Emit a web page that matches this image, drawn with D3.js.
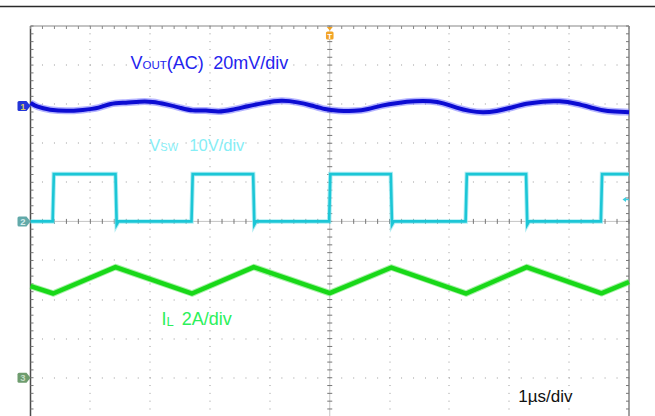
<!DOCTYPE html>
<html><head><meta charset="utf-8">
<script src="https://cdn.jsdelivr.net/npm/d3@7"></script>
<style>
body{margin:0;background:#fff}
svg{display:block}
text{font-family:"Liberation Sans",Arial,Helvetica,sans-serif}
</style>
</head><body>
<svg id="c" width="655" height="416"></svg>
<script>
// ---- data ----
const timeTicks = [-5,-4,-3,-2,-1,0,1,2,3,4,5];          // µs, 1 µs/div
const divTicks  = [-5,-4,-3,-2,-1,0,1,2,3,4,5];          // vertical divisions
const ch1Offset = 2.95, ch1Scale = 20;   // mV/div
const ch2Offset = 0,    ch2Scale = 10;   // V/div
const ch3Offset = -4.0, ch3Scale = 2;    // A/div
const trigLevelV = 5.6;

const voutTime = [-5.00,-4.90,-4.68,-4.40,-4.13,-3.84,-3.68,-3.40,-3.18,-2.96,-2.73,-2.51,-2.29,-2.06,-1.87,-1.64,-1.37,-1.09,-0.81,-0.53,-0.31,-0.08,0.14,0.42,0.64,0.86,1.14,1.42,1.70,1.89,2.12,2.34,2.56,2.79,3.01,3.29,3.56,3.84,4.12,4.40,4.62,5.00];
const voutMv   = [1.7,-0.4,-2.0,-2.6,-2.0,-1.0,1.4,1.7,2.4,2.4,0.9,-0.7,-2.6,-2.0,-3.1,-2.0,0.0,1.7,3.1,2.0,0.4,-1.7,-2.4,-2.6,-1.7,0.4,1.7,2.6,2.6,1.7,-0.9,-2.6,-3.4,-2.6,-1.0,1.4,2.4,2.7,1.4,-1.0,-2.7,-3.1];

const vswTime  = [-5.00,-4.63,-4.61,-3.58,-3.56,-3.53,-2.31,-2.29,-1.28,-1.26,-1.23,-0.01,0.01,1.02,1.04,1.07,2.27,2.29,3.28,3.30,3.33,4.53,4.55,5.00];
const vswVolts = [0,0,12.1,12.1,-0.8,0,0,12.1,12.1,-0.8,0,0,12.1,12.1,-0.8,0,0,12.1,12.1,-0.8,0,0,12.1,12.1];

const ilTime = [-5.00,-4.62,-3.58,-2.30,-1.27,0.00,1.03,2.28,3.29,4.54,5.00];
const ilAmps = [4.69,4.31,5.66,4.31,5.66,4.33,5.64,4.31,5.66,4.32,4.90];

// ---- drawing ----
const svg = d3.select("#c");
const x = d3.scaleLinear().domain([-5,5]).range([30.5,629]);
const y = d3.scaleLinear().domain([-5,5]).range([416.8,26]);

// top rule
svg.append("line").attr("x1",0).attr("x2",655).attr("y1",6.5).attr("y2",6.5)
  .attr("stroke","#2a2a2a").attr("stroke-width",1.6);

const g = svg.append("g");

// dotted grid
timeTicks.filter(t=>Math.abs(t)!==5 && t!==0).forEach(t=>{
  d3.range(-25,26).forEach(k=>{
    g.append("rect").attr("x",Math.round(x(t))-0.5).attr("y",y(k/5)-0.5).attr("width",1).attr("height",1).attr("fill","#9a9a9a");
  });
});
divTicks.filter(d=>Math.abs(d)!==5 && d!==0).forEach(d=>{
  d3.range(-25,26).forEach(k=>{
    g.append("rect").attr("x",x(k/5)-0.5).attr("y",Math.round(y(d))-0.5).attr("width",1).attr("height",1).attr("fill","#9a9a9a");
  });
});

// center axes
g.append("line").attr("x1",x(0)).attr("x2",x(0)).attr("y1",y(5)).attr("y2",y(-5)).attr("stroke","#c4c4c4").attr("stroke-width",1);
g.append("line").attr("x1",x(-5)).attr("x2",x(5)).attr("y1",y(0)).attr("y2",y(0)).attr("stroke","#c4c4c4").attr("stroke-width",1);
d3.range(-25,26).forEach(k=>{
  g.append("line").attr("x1",x(0)-2.5).attr("x2",x(0)+2.5).attr("y1",y(k/5)).attr("y2",y(k/5)).attr("stroke","#777").attr("stroke-width",1);
  g.append("line").attr("x1",x(k/5)).attr("x2",x(k/5)).attr("y1",y(0)-2.5).attr("y2",y(0)+2.5).attr("stroke","#777").attr("stroke-width",1);
});

// frame edges with inward ticks
g.append("line").attr("x1",x(-5)).attr("x2",x(-5)).attr("y1",y(5)).attr("y2",416).attr("stroke","#4a4a4a").attr("stroke-width",1.5);
g.append("line").attr("x1",x(5)).attr("x2",x(5)).attr("y1",y(5)).attr("y2",416).attr("stroke","#707070").attr("stroke-width",1.3);
g.append("line").attr("x1",x(-5)).attr("x2",x(5)).attr("y1",y(5)).attr("y2",y(5)).attr("stroke","#888").attr("stroke-width",1.1);
d3.range(-25,26).forEach(k=>{
  g.append("line").attr("x1",x(-5)).attr("x2",x(-5)+3).attr("y1",y(k/5)).attr("y2",y(k/5)).attr("stroke","#777").attr("stroke-width",1);
  g.append("line").attr("x1",x(5)-3).attr("x2",x(5)).attr("y1",y(k/5)).attr("y2",y(k/5)).attr("stroke","#777").attr("stroke-width",1);
  g.append("line").attr("x1",x(k/5)).attr("x2",x(k/5)).attr("y1",y(5)).attr("y2",y(5)+3).attr("stroke","#888").attr("stroke-width",1);
});

// traces
const line = d3.line().x(d=>x(d[0])).y(d=>y(d[1]));
const ilPts = ilTime.map((t,i)=>[t, ilAmps[i]/ch3Scale + ch3Offset]);
svg.append("path").attr("d",line(ilPts)).attr("fill","none").attr("stroke","#6fe86f").attr("stroke-width",6.5).attr("stroke-linejoin","round").attr("opacity",0.6);
svg.append("path").attr("d",line(ilPts)).attr("fill","none").attr("stroke","#18d818").attr("stroke-width",4.5).attr("stroke-linejoin","round");

const vswPts = vswTime.map((t,i)=>[t, vswVolts[i]/ch2Scale + ch2Offset]);
svg.append("path").attr("d",line(vswPts)).attr("fill","none").attr("stroke","#8fe6ee").attr("stroke-width",4.5).attr("opacity",0.7);
svg.append("path").attr("d",line(vswPts)).attr("fill","none").attr("stroke","#1cc6d6").attr("stroke-width",2.6);

const voutLine = d3.line().x(d=>x(d[0])).y(d=>y(d[1])).curve(d3.curveBasis);
const voutPts = voutTime.map((t,i)=>[t, voutMv[i]/ch1Scale + ch1Offset]);
svg.append("path").attr("d",voutLine(voutPts)).attr("fill","none").attr("stroke","#6a6aff").attr("stroke-width",7).attr("opacity",0.5);
svg.append("path").attr("d",voutLine(voutPts)).attr("fill","none").attr("stroke","#0c0cd2").attr("stroke-width",4);

// channel markers
function marker(yc, fill, tc, label){
  const x0=17.5, x1=26.5, xt=30.5;
  svg.append("path").attr("d",`M${x0+1.5},${yc-5} L${x1},${yc-5} L${xt},${yc} L${x1},${yc+5} L${x0+1.5},${yc+5} Q${x0},${yc+5} ${x0},${yc+3.5} L${x0},${yc-3.5} Q${x0},${yc-5} ${x0+1.5},${yc-5} Z`)
    .attr("fill",fill);
  svg.append("text").attr("x",23).attr("y",yc+3.5).attr("text-anchor","middle").attr("font-size",9.5).attr("font-weight","bold").attr("fill",tc).text(label);
}
marker(y(ch1Offset), "#2436d8", "#d8c860", "1");
marker(y(ch2Offset), "#62a9a9", "#d4ecec", "2");
marker(y(ch3Offset), "#6e9c6e", "#c4dcc4", "3");

// trigger position marker
const tx = x(0);
svg.append("path").attr("d",`M${tx-3},27 L${tx+3},27 L${tx},30.5 Z`).attr("fill","#f0a020");
svg.append("rect").attr("x",tx-3.8).attr("y",31.5).attr("width",7.6).attr("height",8).attr("rx",1.5).attr("fill","#f2a426");
svg.append("text").attr("x",tx).attr("y",38.6).attr("text-anchor","middle").attr("font-size",8).attr("font-weight","bold").attr("fill","#fff").text("T");

// trigger level arrow
const ty = y(trigLevelV/ch2Scale + ch2Offset);
svg.append("path").attr("d",`M${x(5)-6.5},${ty} L${x(5)-3},${ty-2.5} L${x(5)-3},${ty+2.5} Z`).attr("fill","#3ccfe0");
svg.append("line").attr("x1",x(5)-4).attr("x2",x(5)).attr("y1",ty).attr("y2",ty).attr("stroke","#3ccfe0").attr("stroke-width",1.4);

// labels
const t1 = svg.append("text").attr("x",130.5).attr("y",69.3).attr("font-size",18).attr("fill","#2424ee");
t1.append("tspan").text("V");
t1.append("tspan").attr("font-size",11.5).text("OUT");
t1.append("tspan").text("(AC)");
svg.append("text").attr("x",213.3).attr("y",69.3).attr("font-size",18).attr("fill","#2424ee").text("20mV/div");

const t2 = svg.append("text").attr("x",149.3).attr("y",151).attr("font-size",16.5).attr("fill","#86eef6");
t2.append("tspan").text("V");
t2.append("tspan").attr("font-size",11).text("SW");
svg.append("text").attr("x",189.3).attr("y",151).attr("font-size",16.5).attr("fill","#86eef6").text("10V/div");

const t3 = svg.append("text").attr("x",161.5).attr("y",325).attr("font-size",18).attr("fill","#2cf05a");
t3.append("tspan").text("I");
t3.append("tspan").attr("font-size",13).attr("dy",1).text("L");
svg.append("text").attr("x",181.7).attr("y",325).attr("font-size",18).attr("fill","#2cf05a").text("2A/div");

svg.append("text").attr("x",518.3).attr("y",401.7).attr("font-size",17).attr("fill","#111").text("1µs/div");
</script>
</body></html>
